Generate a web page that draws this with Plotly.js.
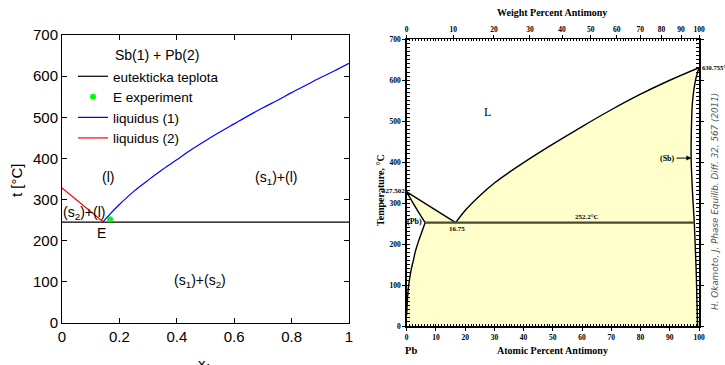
<!DOCTYPE html>
<html>
<head>
<meta charset="utf-8">
<script src="https://cdn.plot.ly/plotly-3.0.1.min.js"></script>
<style>html,body{margin:0;padding:0;background:#fff;}#chart{width:725px;height:365px;}</style>
</head>
<body>
<div id="chart"></div>
<script>
// ---------- Left chart (model) ----------
const eutX = [0, 1];
const eutT = [245, 245];
const expX = [0.1675];
const expT = [252.2];
const liq1X = [0.143, 0.16, 0.18, 0.2, 0.25, 0.3, 0.35, 0.4, 0.45, 0.5, 0.55, 0.6, 0.65, 0.7, 0.75, 0.8, 0.85, 0.9, 0.95, 1.0];
const liq1T = [246, 259, 274, 288, 320, 347, 373, 397, 421, 443, 464, 484, 504, 523, 541, 560, 578, 596, 613, 631];
const liq2X = [0, 0.07, 0.143];
const liq2T = [328, 287, 246];
const leftXTicks = [0, 0.2, 0.4, 0.6, 0.8, 1];
const leftYTicks = [0, 100, 200, 300, 400, 500, 600, 700];

// ---------- Right chart (Okamoto phase diagram) ----------
const pbLiqA = [0, 16.75];
const pbLiqT = [327.502, 252.2];
const sbLiqA = [16.75, 20, 25, 30, 35, 40, 50, 60, 70, 80, 90, 100];
const sbLiqT = [252.2, 282, 318, 349, 375, 399, 444, 487, 528, 566, 600, 630.755];
const pbSolidusA = [0, 3, 6.3];
const pbSolidusT = [327.502, 290, 252.2];
const pbSolvusA = [6.3, 5.2, 4.0, 3.0, 2.3, 1.6, 1.1, 0.6, 0.3, 0.1, 0];
const pbSolvusT = [252.2, 230, 206, 183, 161, 140, 120, 95, 70, 45, 27];
const sbSolidusA = [100, 98.8, 97.8, 97.4, 97.3, 97.5, 97.9, 98.4];
const sbSolidusT = [630.755, 600, 550, 480, 413, 370, 310, 252.2];
const sbSolvusA = [98.4, 98.8, 99.1, 99.3, 99.5];
const sbSolvusT = [252.2, 180, 120, 60, 0];
const eutecticA = [6.3, 98.4];
const eutecticT = [252.2, 252.2];
const weightTicks = [0, 10, 20, 30, 40, 50, 60, 70, 80, 90, 100];
const massSb = 121.76, massPb = 207.2;

const W = 725, H = 365;
const px = v => v / W;
const py = v => (H - v) / H;

// weight % -> atomic % positions for top axis
const weightPos = weightTicks.map(w => {
  if (w === 0) return 0;
  if (w === 100) return 100;
  const nSb = w / massSb, nPb = (100 - w) / massPb;
  return 100 * nSb / (nSb + nPb);
});

// fill polygon for the yellow two-phase regions
const fillA = [].concat(pbLiqA, sbLiqA.slice(1), sbSolidusA.slice(1), sbSolvusA.slice(1), [0], pbSolvusA.slice().reverse(), pbSolidusA.slice().reverse().slice(1));
const fillT = [].concat(pbLiqT, sbLiqT.slice(1), sbSolidusT.slice(1), sbSolvusT.slice(1), [0], pbSolvusT.slice().reverse(), pbSolidusT.slice().reverse().slice(1));

const sansL = 'Liberation Sans, Arial, sans-serif';
const serif = 'Liberation Serif, Times New Roman, serif';

const blackLine = {color: '#000', width: 1.4};
const data = [
  {x: eutX, y: eutT, mode: 'lines', name: 'eutekticka teplota', line: {color: '#000', width: 1.2}, xaxis: 'x', yaxis: 'y'},
  {x: expX, y: expT, mode: 'markers', name: 'E experiment', marker: {color: '#00ff00', size: 6}, xaxis: 'x', yaxis: 'y'},
  {x: liq1X, y: liq1T, mode: 'lines', name: 'liquidus (1)', line: {color: '#0000ff', width: 1.2, shape: 'spline'}, xaxis: 'x', yaxis: 'y'},
  {x: liq2X, y: liq2T, mode: 'lines', name: 'liquidus (2)', line: {color: '#ff0000', width: 1.2}, xaxis: 'x', yaxis: 'y'},
  // right chart
  {x: fillA, y: fillT, mode: 'lines', fill: 'toself', fillcolor: '#ffffcc', line: {width: 0, color: 'rgba(0,0,0,0)'}, showlegend: false, hoverinfo: 'skip', xaxis: 'x2', yaxis: 'y2'},
  {x: pbLiqA, y: pbLiqT, mode: 'lines', line: blackLine, showlegend: false, xaxis: 'x2', yaxis: 'y2'},
  {x: sbLiqA, y: sbLiqT, mode: 'lines', line: Object.assign({shape: 'spline'}, blackLine), showlegend: false, xaxis: 'x2', yaxis: 'y2'},
  {x: pbSolidusA, y: pbSolidusT, mode: 'lines', line: Object.assign({shape: 'spline'}, blackLine), showlegend: false, xaxis: 'x2', yaxis: 'y2'},
  {x: pbSolvusA, y: pbSolvusT, mode: 'lines', line: Object.assign({shape: 'spline'}, blackLine), showlegend: false, xaxis: 'x2', yaxis: 'y2'},
  {x: sbSolidusA, y: sbSolidusT, mode: 'lines', line: Object.assign({shape: 'spline'}, blackLine), showlegend: false, xaxis: 'x2', yaxis: 'y2'},
  {x: sbSolvusA, y: sbSolvusT, mode: 'lines', line: Object.assign({shape: 'spline'}, blackLine), showlegend: false, xaxis: 'x2', yaxis: 'y2'},
  {x: eutecticA, y: eutecticT, mode: 'lines', line: {color: '#4a4a3a', width: 2.2}, showlegend: false, xaxis: 'x2', yaxis: 'y2'},
  {x: [0, 100], y: [-50, -50], mode: 'lines', line: {width: 0}, showlegend: false, hoverinfo: 'skip', xaxis: 'x3', yaxis: 'y2'}
];

const ann = [];
function a(o) { ann.push(Object.assign({showarrow: false, xanchor: 'center', yanchor: 'middle'}, o)); }
const lf = {family: sansL, size: 14, color: '#000'};
// left chart texts
a({text: 'Sb(1) + Pb(2)', xref: 'paper', yref: 'paper', x: px(113), y: py(55), xanchor: 'left', font: lf});
a({text: '(l)', xref: 'x', yref: 'y', x: 0.16, y: 354, font: lf});
a({text: '(s<sub>1</sub>)+(l)', xref: 'x', yref: 'y', x: 0.746, y: 352, font: lf});
a({text: '(s<sub>2</sub>)+(l)', xref: 'x', yref: 'y', x: 0.077, y: 267, font: lf});
a({text: 'E', xref: 'x', yref: 'y', x: 0.139, y: 218, font: lf});
a({text: '(s<sub>1</sub>)+(s<sub>2</sub>)', xref: 'x', yref: 'y', x: 0.481, y: 101, font: lf});
a({text: 't [°C]', xref: 'paper', yref: 'paper', x: px(16), y: py(180), textangle: -90, font: {family: sansL, size: 15, color: '#000'}});
a({text: 'x<sub>1</sub>', xref: 'paper', yref: 'paper', x: px(205), y: py(364), font: {family: sansL, size: 15, color: '#000'}});

// right chart texts
const rf = s => ({family: serif, size: s, color: '#000', weight: 'bold'});
a({text: 'Weight Percent Antimony', xref: 'paper', yref: 'paper', x: px(552), y: py(13), font: rf(10)});
a({text: 'Atomic Percent Antimony', xref: 'paper', yref: 'paper', x: px(552), y: py(350), font: rf(10)});
a({text: 'Pb', xref: 'x2', yref: 'paper', x: 1.5, y: py(350), font: rf(10.5)});
a({text: 'Sb', xref: 'x2', yref: 'paper', x: 101.5, y: py(350), font: rf(10.5)});
a({text: 'Temperature, °C', xref: 'paper', yref: 'paper', x: px(380), y: py(190), textangle: -90, font: rf(10)});
a({text: 'L', xref: 'x2', yref: 'y2', x: 27.8, y: 522, font: {family: serif, size: 12, color: '#000'}});
a({text: '(Pb)', xref: 'x2', yref: 'y2', x: 2.8, y: 254, font: rf(8)});
a({text: '16.75', xref: 'x2', yref: 'y2', x: 17.2, y: 237, font: rf(7)});
a({text: '252.2°C', xref: 'x2', yref: 'y2', x: 61.7, y: 266, font: rf(7)});
a({text: '327.502', xref: 'x2', yref: 'y2', x: 0, y: 330, xanchor: 'right', font: rf(7)});
a({text: '630.755°C', xref: 'x2', yref: 'y2', x: 100, y: 632, xanchor: 'left', xshift: 1, font: rf(6.5)});
ann.push({text: '(Sb)', xref: 'x2', yref: 'y2', x: 97.4, y: 410, ax: -24, ay: 0, showarrow: true, arrowhead: 2, arrowsize: 1, arrowwidth: 1, arrowcolor: '#000', font: rf(8), standoff: 0});
a({text: 'H. Okamoto, J. Phase Equilib. Diff. 32, 567 (2011)', xref: 'paper', yref: 'paper', x: px(715), y: py(202), textangle: -90, font: {family: 'DejaVu Sans, sans-serif', size: 8.8, color: '#555', style: 'italic'}});

const tickF = {family: sansL, size: 15, color: '#000'};
const rTickF = {family: serif, size: 7.5, color: '#000', weight: 'bold'};

const layout = {
  width: W, height: H,
  margin: {l: 0, r: 0, t: 0, b: 0},
  paper_bgcolor: '#fff', plot_bgcolor: 'rgba(0,0,0,0)',
  showlegend: true,
  legend: {x: px(73), y: py(61), xanchor: 'left', yanchor: 'top', bgcolor: 'rgba(0,0,0,0)', borderwidth: 0, font: {family: sansL, size: 13.5, color: '#000'}, tracegroupgap: 0},
  xaxis: {domain: [px(62), px(349)], range: [0, 1], tickvals: leftXTicks, ticks: 'inside', ticklen: 5, tickcolor: '#000', mirror: 'allticks', showline: true, linecolor: '#000', linewidth: 1, showgrid: false, zeroline: false, tickfont: tickF, anchor: 'y'},
  yaxis: {domain: [py(323), py(35)], range: [0, 700], tickvals: leftYTicks, ticks: 'inside', ticklen: 5, tickcolor: '#000', mirror: 'allticks', showline: true, linecolor: '#000', linewidth: 1, showgrid: false, zeroline: false, tickfont: tickF, anchor: 'x'},
  xaxis2: {domain: [px(406.7), px(699)], range: [0, 100], dtick: 10, ticks: 'outside', ticklen: 3, tickcolor: '#000', showline: true, linecolor: '#000', linewidth: 1.5, showgrid: false, zeroline: false, tickfont: rTickF, anchor: 'y2',
    minor: {dtick: 1, ticks: 'inside', ticklen: 2, tickcolor: '#000', showgrid: false}},
  xaxis3: {overlaying: 'x2', side: 'top', anchor: 'y2', range: [0, 100], tickvals: weightPos, ticktext: weightTicks.map(String), ticks: 'outside', ticklen: 3, tickcolor: '#000', showline: true, linecolor: '#000', linewidth: 1.5, showgrid: false, zeroline: false, tickfont: rTickF,
    minor: {dtick: 1, ticks: 'inside', ticklen: 2, tickcolor: '#000', showgrid: false}},
  yaxis2: {domain: [py(326), py(39.3)], range: [0, 700], dtick: 100, ticks: 'outside', ticklen: 3, tickcolor: '#000', mirror: 'allticks', showline: true, linecolor: '#000', linewidth: 1.5, showgrid: false, zeroline: false, tickfont: rTickF, anchor: 'x2',
    minor: {dtick: 10, ticks: 'inside', ticklen: 2, tickcolor: '#000', showgrid: false}},
  annotations: ann
};

Plotly.newPlot('chart', data, layout, {staticPlot: true, displayModeBar: false});
</script>
</body>
</html>
